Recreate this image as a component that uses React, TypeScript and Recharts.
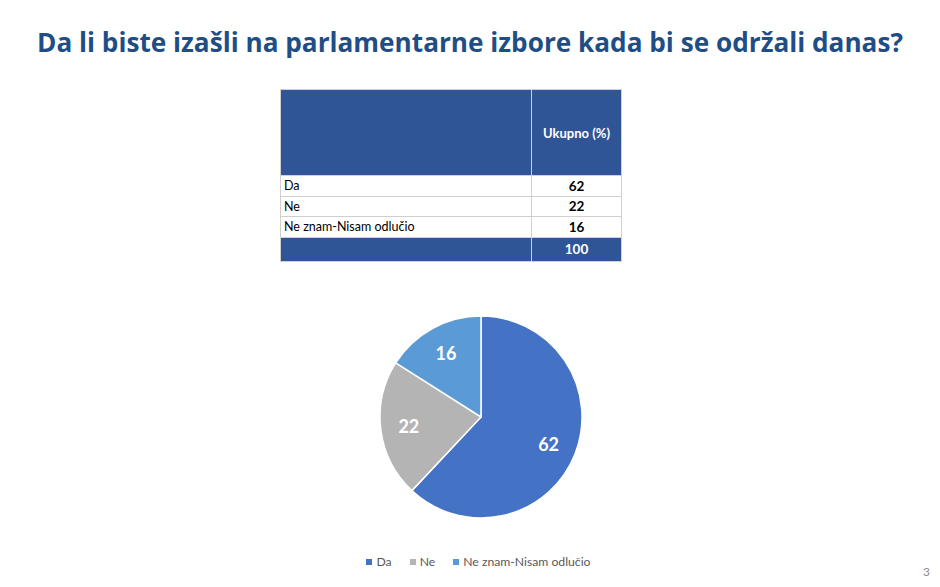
import React from "react";
import { PieChart, Pie, Cell, Legend } from "recharts";

const categories = ["Da", "Ne", "Ne znam-Nisam odlučio"];
const values = [62, 22, 16];
const total = 100;
const colors = ["#4472C4", "#B4B4B4", "#5B9BD5"];

const pieData = categories.map((name, i) => ({ name, value: values[i] }));

const RADIAN = Math.PI / 180;

function renderLabel(props: any) {
  const { cx, cy, midAngle, outerRadius, value } = props;
  const r = outerRadius * 0.72;
  const x = cx + r * Math.cos(-midAngle * RADIAN);
  const y = cy + r * Math.sin(-midAngle * RADIAN);
  return (
    <text
      x={x}
      y={y}
      fill="#ffffff"
      textAnchor="middle"
      dominantBaseline="central"
      fontSize={18}
      fontWeight="bold"
      fontFamily="Lato, 'Open Sans', sans-serif"
    >
      {value}
    </text>
  );
}

function renderLegend(props: any) {
  const { payload } = props;
  return (
    <div
      style={{
        display: "flex",
        justifyContent: "center",
        gap: 18,
        fontSize: 12.2,
        paddingLeft: 17,
      }}
    >
      {payload.map((p: any) => (
        <div key={p.value} style={{ display: "flex", alignItems: "center", color: "#595959" }}>
          <span
            style={{ width: 6, height: 6, background: p.color, display: "inline-block", marginRight: 4 }}
          />
          {p.value}
        </div>
      ))}
    </div>
  );
}

const cellBorder = "1px solid #D0D0D0";
const headerBlue = "#2F5597";

export default function App() {
  return (
    <div
      style={{
        position: "absolute",
        left: 0,
        top: 0,
        width: 940,
        height: 587,
        background: "#ffffff",
        overflow: "hidden",
        fontFamily: "Lato, 'Open Sans', sans-serif",
      }}
    >
      <div
        style={{
          position: "absolute",
          left: 0,
          top: 24,
          width: 940,
          textAlign: "center",
          fontFamily: "'Open Sans', sans-serif",
          fontWeight: "bold",
          fontSize: 26.2,
          color: "#1F4E87",
          whiteSpace: "nowrap",
        }}
      >
        Da li biste izašli na parlamentarne izbore kada bi se održali danas?
      </div>

      <table
        style={{
          position: "absolute",
          left: 280,
          top: 89,
          width: 342,
          borderCollapse: "collapse",
          fontSize: 12.5,
          color: "#000",
        }}
      >
        <tbody>
          <tr style={{ height: 86 }}>
            <td style={{ background: headerBlue, border: cellBorder, width: 248 }} />
            <td
              style={{
                background: headerBlue,
                border: cellBorder,
                color: "#fff",
                fontWeight: "bold",
                textAlign: "center",
                fontSize: 13,
              }}
            >
              Ukupno (%)
            </td>
          </tr>
          {categories.map((c, i) => (
            <tr key={c} style={{ height: 20.5 }}>
              <td style={{ border: cellBorder, padding: "0 3px" }}>{c}</td>
              <td
                style={{ border: cellBorder, textAlign: "center", fontWeight: "bold", fontSize: 13.5 }}
              >
                {values[i]}
              </td>
            </tr>
          ))}
          <tr style={{ height: 24 }}>
            <td style={{ background: headerBlue, border: cellBorder }} />
            <td
              style={{
                background: headerBlue,
                border: cellBorder,
                color: "#fff",
                fontWeight: "bold",
                textAlign: "center",
                fontSize: 13.5,
              }}
            >
              {total}
            </td>
          </tr>
        </tbody>
      </table>

      <div style={{ position: "absolute", left: 0, top: 290 }}>
        <PieChart width={940} height={290} margin={{ top: 0, right: 0, bottom: 0, left: 0 }}>
          <Pie
            data={pieData}
            dataKey="value"
            nameKey="name"
            cx={481}
            cy={127}
            outerRadius={101}
            startAngle={90}
            endAngle={-270}
            stroke="#ffffff"
            strokeWidth={1.5}
            label={renderLabel}
            labelLine={false}
            isAnimationActive={false}
          >
            {pieData.map((d, i) => (
              <Cell key={d.name} fill={colors[i]} />
            ))}
          </Pie>
          <Legend verticalAlign="bottom" content={renderLegend} wrapperStyle={{ bottom: 11 }} />
        </PieChart>
      </div>

      <div
        style={{
          position: "absolute",
          right: 10,
          top: 564,
          fontSize: 12,
          color: "#8C8C8C",
        }}
      >
        3
      </div>
    </div>
  );
}
